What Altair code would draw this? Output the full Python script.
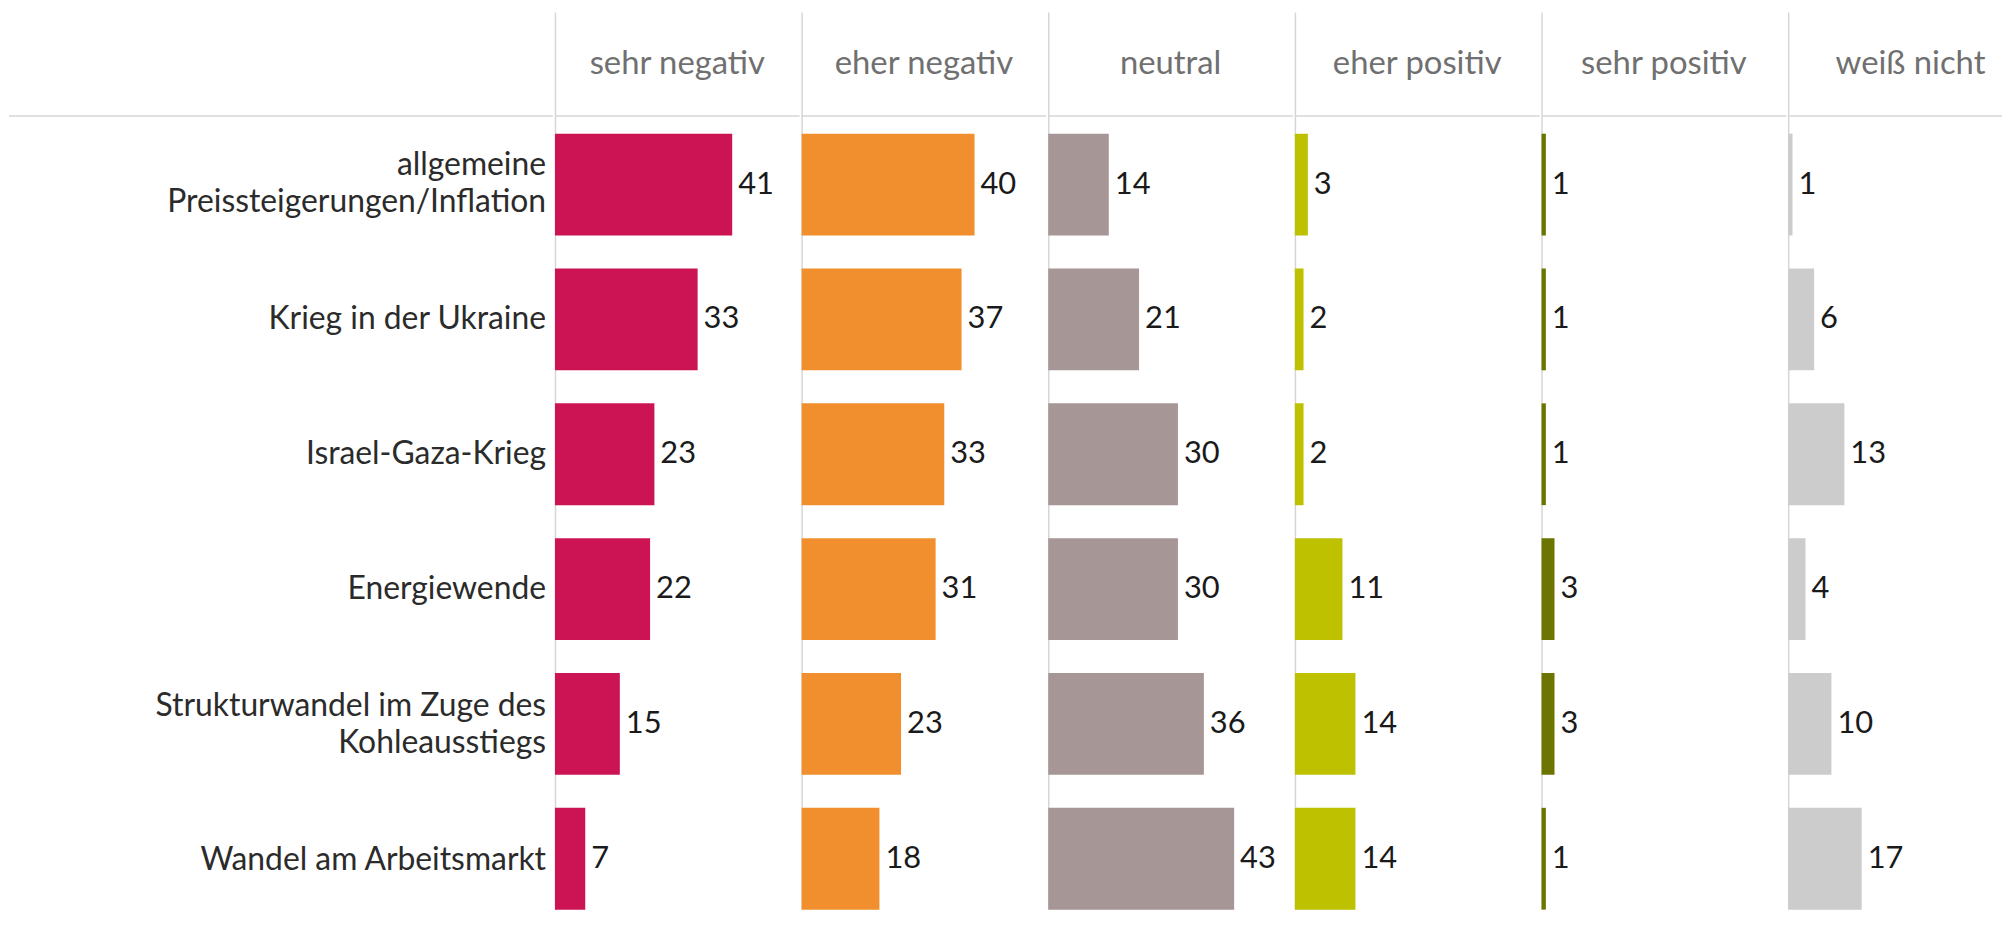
import altair as alt
import pandas as pd

items = [
    "allgemeine\nPreissteigerungen/Inflation",
    "Krieg in der Ukraine",
    "Israel-Gaza-Krieg",
    "Energiewende",
    "Strukturwandel im Zuge des\nKohleausstiegs",
    "Wandel am Arbeitsmarkt",
]
categories = ["sehr negativ", "eher negativ", "neutral", "eher positiv", "sehr positiv", "weiß nicht"]
colors = ["#CC1354", "#F18F2E", "#A69695", "#BDC100", "#6B7500", "#CCCCCC"]

sehr_negativ = [41, 33, 23, 22, 15, 7]
eher_negativ = [40, 37, 33, 31, 23, 18]
neutral = [14, 21, 30, 30, 36, 43]
eher_positiv = [3, 2, 2, 11, 14, 14]
sehr_positiv = [1, 1, 1, 3, 3, 1]
weiss_nicht = [1, 6, 13, 4, 10, 17]
series = [sehr_negativ, eher_negativ, neutral, eher_positiv, sehr_positiv, weiss_nicht]

rows = []
for cat, vals in zip(categories, series):
    for it, v in zip(items, vals):
        rows.append({"item": it, "category": cat, "value": v})
df = pd.DataFrame(rows)

FONT = "Lato"
GRID = "#D6D6D6"
H = 904
COLW = 246
XMAX = 56.6
HLINE_Y = 106
LH = 38

yscale = alt.Scale(domain=items, range=[106, 922], paddingInner=0.245, paddingOuter=0.132)
xscale = alt.Scale(domain=[0, XMAX], range=[0, COLW])

# label panel
lab_df = pd.DataFrame({"item": items, "lines": [it.count("\n") + 1 for it in items]})
label_layers = []
for n in (1, 2):
    label_layers.append(
        alt.Chart(lab_df).transform_filter(alt.datum.lines == n).mark_text(
            align="right", baseline="middle", lineBreak="\n", lineHeight=LH,
            dy=-(n - 1) * LH / 2, fontSize=32, font=FONT, color="#2B2B2B"
        ).encode(
            x=alt.value(540),
            y=alt.Y("item:N", scale=yscale, axis=None),
            text="item:N",
        )
    )
lab_line = alt.Chart(pd.DataFrame({"a": [0]})).mark_rule(color=GRID, strokeWidth=1.5).encode(
    x=alt.value(0), x2=alt.value(547), y=alt.value(HLINE_Y)
)
label_panel = alt.layer(lab_line, *label_layers).properties(width=547, height=H)

panels = [label_panel]
for i, (cat, col) in enumerate(zip(categories, colors)):
    w = COLW if i < len(categories) - 1 else 215
    hdr_df = pd.DataFrame({"category": [cat]})
    vline = alt.Chart(hdr_df).mark_rule(color=GRID, strokeWidth=1.5).encode(
        x=alt.value(0.5), y=alt.value(2), y2=alt.value(H)
    )
    hline = alt.Chart(hdr_df).mark_rule(color=GRID, strokeWidth=1.5).encode(
        x=alt.value(0), x2=alt.value(w), y=alt.value(HLINE_Y)
    )
    header = alt.Chart(hdr_df).mark_text(
        align="center", baseline="middle", fontSize=33, font=FONT, color="#707070"
    ).encode(x=alt.value(COLW / 2), y=alt.value(54), text="category:N")
    base = alt.Chart(df).transform_filter(alt.datum.category == cat)
    bars = base.mark_bar(color=col).encode(
        x=alt.X("value:Q", scale=xscale, axis=None),
        y=alt.Y("item:N", scale=yscale, axis=None),
    )
    vals = base.mark_text(
        align="left", baseline="middle", dx=6, fontSize=31, font=FONT, color="#1A1A1A"
    ).encode(
        x=alt.X("value:Q", scale=xscale, axis=None),
        y=alt.Y("item:N", scale=yscale, axis=None),
        text="value:Q",
    )
    panels.append(alt.layer(vline, hline, header, bars, vals).properties(width=w, height=H))

chart = alt.hconcat(*panels, spacing=0).properties(padding=0).configure_view(stroke=None)

chart.save("out.html", embed_options={"renderer": "svg", "actions": False})
